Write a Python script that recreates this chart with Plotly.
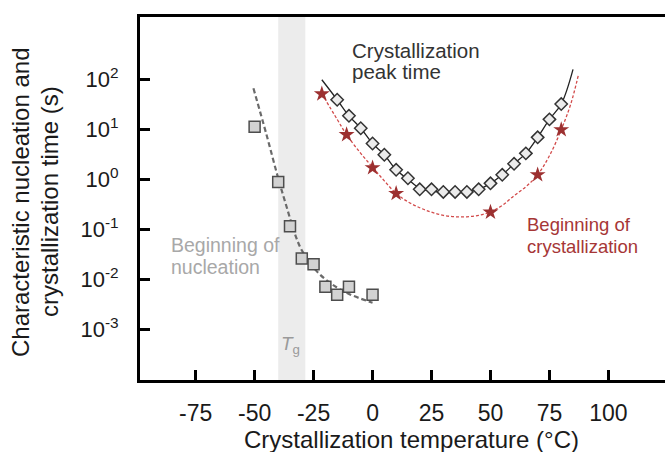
import plotly.graph_objects as go

# ---------------- data ----------------
# Beginning of nucleation (squares)
nuc_T = [-50, -40, -35, -30, -25, -20, -15, -10, 0]
nuc_t = [11.2, 0.88, 0.115, 0.026, 0.020, 0.0071, 0.0049, 0.0071, 0.0049]
# dashed guide through nucleation data
nuc_fit_T = [-50.5, -45, -40, -36, -33, -30, -25, -20, -15, -10, -5, 0]
nuc_fit_t = [66, 7.9, 1.05, 0.24, 0.083, 0.038, 0.017, 0.010, 0.0068, 0.0051, 0.0041, 0.0034]

# Crystallization peak time (diamonds)
peak_T = [-15, -10, -5, 0, 5, 10, 15, 20, 25, 30, 35, 40, 45, 50, 55, 60, 65, 70, 75, 80]
peak_t = [39, 18.6, 10.5, 5.2, 3.1, 1.55, 1.05, 0.63, 0.63, 0.56, 0.56, 0.56, 0.63, 0.83,
          1.23, 2.04, 3.3, 6.9, 15.8, 32]
peak_fit_T = [-21.5, -15, -10, -5, 0, 5, 10, 15, 20, 25, 30, 35, 40, 45, 50, 55, 60, 65,
              70, 75, 80, 85]
peak_fit_t = [98, 39, 18.6, 10.5, 5.2, 3.1, 1.55, 1.0, 0.66, 0.58, 0.56, 0.56, 0.57, 0.63,
              0.83, 1.23, 2.04, 3.3, 6.9, 15.8, 32, 158]

# Beginning of crystallization (stars)
beg_T = [-21.5, -11, 0, 10, 50, 70, 80]
beg_t = [51, 7.8, 1.7, 0.52, 0.22, 1.23, 9.8]
beg_fit_T = [-21.5, -15, -11, -5, 0, 5, 10, 15, 20, 25, 30, 35, 40, 45, 50, 55, 60, 65,
             70, 75, 80, 84, 87.3]
beg_fit_t = [51.3, 15.8, 7.8, 3.3, 1.74, 0.93, 0.52, 0.355, 0.27, 0.22, 0.19, 0.178, 0.178,
             0.19, 0.224, 0.30, 0.47, 0.71, 1.23, 2.95, 9.8, 31.6, 123]

# glass transition band
tg_band = [-40, -28.5]

x_ticks = [-75, -50, -25, 0, 25, 50, 75, 100]
x_ticktext = ["-75", "-50", "-25", "0", "25", "50", "75", "100"]
y_ticks = [1e-3, 1e-2, 1e-1, 1e0, 1e1, 1e2]
y_ticktext = ["10<sup>-3</sup>", "10<sup>-2</sup>", "10<sup>-1</sup>",
              "10<sup>0</sup>", "10<sup>1</sup>", "10<sup>2</sup>"]

FONT = "Liberation Sans, Arial, sans-serif"

W, H = 665, 452
L, R, T, B = 140, 0, 17, 72
pw, ph = W - L - R, H - T - B


def px2paper(px, py):
    return (px - L) / pw, (H - B - py) / ph


fig = go.Figure()

fig.add_shape(type="rect", xref="x", yref="paper", x0=tg_band[0], x1=tg_band[1],
              y0=0, y1=1, fillcolor="#ececec", line_width=0, layer="below")

fig.add_trace(go.Scatter(x=nuc_fit_T, y=nuc_fit_t, mode="lines",
                         line=dict(color="#6a6a6a", width=2.2, dash="5px,3px", shape="spline"),
                         showlegend=False, hoverinfo="skip"))
fig.add_trace(go.Scatter(x=nuc_T, y=nuc_t, mode="markers",
                         marker=dict(symbol="square", size=11, color="#d2d2d2",
                                     line=dict(color="#4d4d4d", width=1.5)),
                         showlegend=False))

fig.add_trace(go.Scatter(x=beg_fit_T, y=beg_fit_t, mode="lines",
                         line=dict(color="#d24a4a", width=1.3, dash="3px,2px", shape="spline"),
                         showlegend=False, hoverinfo="skip"))
fig.add_trace(go.Scatter(x=peak_fit_T, y=peak_fit_t, mode="lines",
                         line=dict(color="#222222", width=1.3, shape="spline"),
                         showlegend=False, hoverinfo="skip"))
fig.add_trace(go.Scatter(x=peak_T, y=peak_t, mode="markers",
                         marker=dict(symbol="diamond", size=9.5, color="#ececec",
                                     line=dict(color="#333333", width=1.5)),
                         showlegend=False))
fig.add_trace(go.Scatter(x=beg_T, y=beg_t, mode="markers",
                         marker=dict(symbol="star", size=12, color="#9c3030",
                                     line=dict(width=0)),
                         showlegend=False))


def label(text, x, y, size, color, xanchor="left"):
    fig.add_annotation(text=text, x=x, y=y, xref="x", yref="y", showarrow=False,
                       xanchor=xanchor, yanchor="middle",
                       font=dict(family=FONT, size=size, color=color))


label("Crystallization", -9.5, 2.57, 20.5, "#333333")
label("peak time", -9.5, 2.15, 20.5, "#333333")
label("Beginning of", -86.3, -1.31, 19.5, "#a8a8a8")
label("nucleation", -86.3, -1.75, 19.5, "#a8a8a8")
label("Beginning of", 64.6, -0.91, 18.5, "#a63636")
label("crystallization", 64.6, -1.35, 18.5, "#a63636")
label("<i>T</i><sub>g</sub>", -35, -3.31, 19, "#9a9a9a", xanchor="center")

# axis titles
xp, yp = px2paper(411, 439)
fig.add_annotation(text="Crystallization temperature (°C)", x=xp, y=yp, xref="paper",
                   yref="paper", showarrow=False, xanchor="center", yanchor="middle",
                   font=dict(family=FONT, size=24, color="#1a1a1a"))
xp, yp = px2paper(21, 202)
fig.add_annotation(text="Characteristic nucleation and", x=xp, y=yp, xref="paper",
                   yref="paper", showarrow=False, xanchor="center", yanchor="middle",
                   textangle=-90, font=dict(family=FONT, size=24, color="#1a1a1a"))
xp, yp = px2paper(50, 202)
fig.add_annotation(text="crystallization time (s)", x=xp, y=yp, xref="paper",
                   yref="paper", showarrow=False, xanchor="center", yanchor="middle",
                   textangle=-90, font=dict(family=FONT, size=24, color="#1a1a1a"))

fig.update_layout(
    width=W, height=H, margin=dict(l=L, r=R, t=T, b=B),
    paper_bgcolor="white", plot_bgcolor="white", showlegend=False,
    font=dict(family=FONT, color="#1a1a1a"),
    xaxis=dict(range=[-98.6, 124], tickvals=x_ticks, ticktext=x_ticktext,
               ticks="inside", ticklen=10,
               tickwidth=2.5, tickcolor="black", showline=True, linewidth=3,
               linecolor="black", mirror=True, showgrid=False, zeroline=False,
               tickfont=dict(size=23, family=FONT, color="#1a1a1a"),
               ticklabelstandoff=10),
    yaxis=dict(type="log", range=[-4.014, 3.246], tickvals=y_ticks, ticktext=y_ticktext,
               ticks="inside", ticklen=10, tickwidth=2.5, tickcolor="black",
               showline=True, linewidth=3, linecolor="black", mirror=False,
               showgrid=False, zeroline=False,
               tickfont=dict(size=22, family=FONT, color="#1a1a1a"),
               ticklabelstandoff=14),
)

fig.write_html("out.html")
